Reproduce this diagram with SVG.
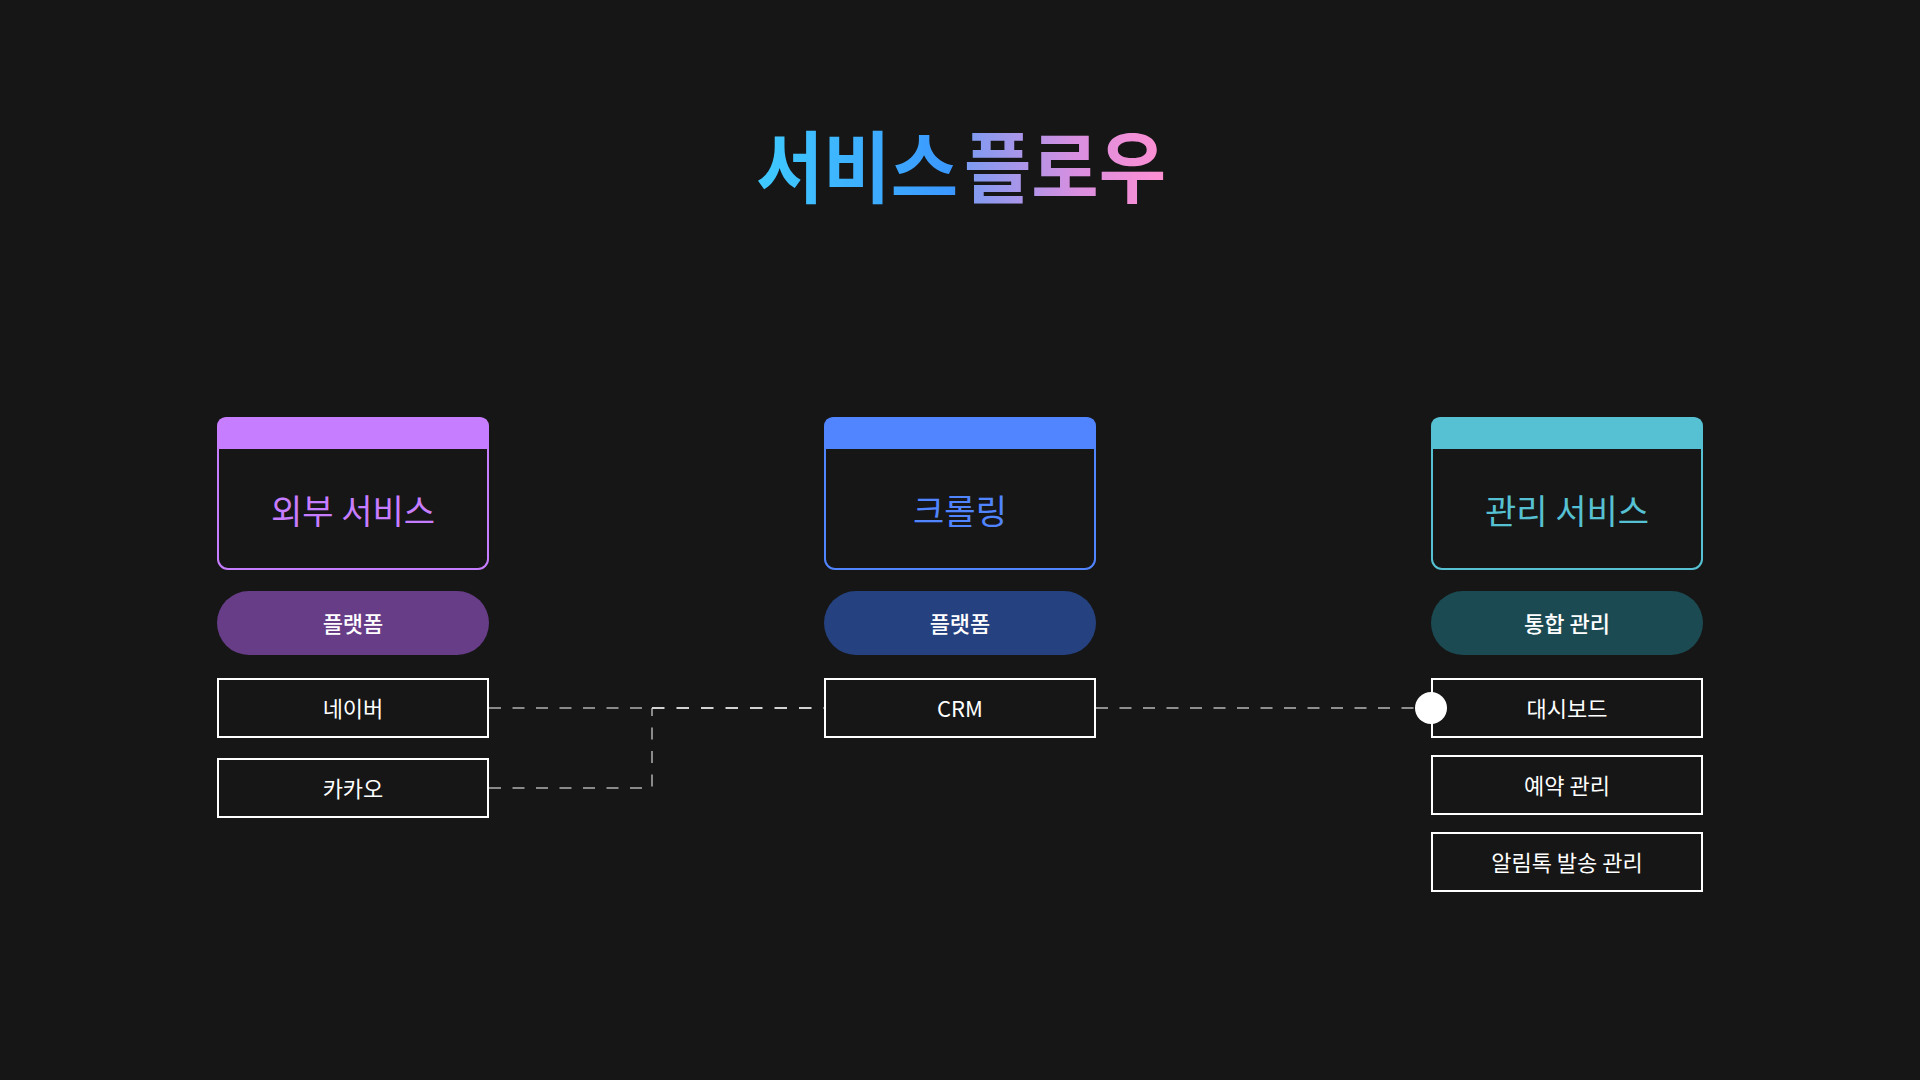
<svg xmlns="http://www.w3.org/2000/svg" width="1920" height="1080" viewBox="0 0 1920 1080">
  <defs>
    <linearGradient id="g1" x1="0" y1="0" x2="1" y2="0">
      <stop offset="0" stop-color="#3fcbff"/>
      <stop offset="1" stop-color="#3b96ff"/>
    </linearGradient>
    <linearGradient id="g2" x1="0" y1="0" x2="1" y2="0">
      <stop offset="0" stop-color="#7a9cf2"/>
      <stop offset="0.55" stop-color="#d88fe0"/>
      <stop offset="1" stop-color="#ff8fd2"/>
    </linearGradient>
    <style>
      .t { font-family: "Noto Sans CJK KR", "Noto Sans", sans-serif; }
      .title { font-size: 78px; font-weight: 700; }
      .card { fill: #161616; stroke-width: 2; }
      .clabel { font-size: 34px; text-anchor: middle; dominant-baseline: central; }
      .pill-t { font-size: 22px; font-weight: 500; fill: #ffffff; text-anchor: middle; dominant-baseline: central; }
      .box { fill: #161616; stroke: #ffffff; stroke-width: 2; }
      .box-t { font-size: 22px; fill: #ffffff; text-anchor: middle; dominant-baseline: central; }
      .dash { fill: none; stroke-width: 2; stroke-dasharray: 12 11.5; }
    </style>
  </defs>
  <rect width="1920" height="1080" fill="#161616"/>

  <g id="title">
    <text class="t title" x="756" y="197" fill="url(#g1)" textLength="202" lengthAdjust="spacingAndGlyphs">서비스</text>
    <text class="t title" x="964" y="197" fill="url(#g2)" textLength="202" lengthAdjust="spacingAndGlyphs">플로우</text>
  </g>

  <g id="connectors">
    <path class="dash" d="M489,708 H652" stroke="#8a8a8a"/>
    <path class="dash" d="M489,788 H652 V708" stroke="#8a8a8a"/>
    <path class="dash" d="M652,708 H824" stroke="#d2d2d2" style="stroke-dasharray:12.5 12"/>
    <path class="dash" d="M1096,708 H1416" stroke="#8f8f8f"/>
  </g>

  <g id="card-external">
    <rect class="card" x="218" y="418" width="270" height="151" rx="10" stroke="#c77dff"/>
    <path d="M217,449 V427 Q217,417 227,417 H479 Q489,417 489,427 V449 Z" fill="#c77dff"/>
    <text class="t clabel" x="353" y="509" fill="#c77dff">외부 서비스</text>
  </g>
  <g id="pill-external">
    <rect x="217" y="591" width="272" height="64" rx="32" fill="#673d88"/>
    <text class="t pill-t" x="353" y="622">플랫폼</text>
  </g>
  <g id="naver">
    <rect class="box" x="218" y="679" width="270" height="58"/>
    <text class="t box-t" x="353" y="707">네이버</text>
  </g>
  <g id="kakao">
    <rect class="box" x="218" y="759" width="270" height="58"/>
    <text class="t box-t" x="353" y="787">카카오</text>
  </g>

  <g id="card-crolling">
    <rect class="card" x="825" y="418" width="270" height="151" rx="10" stroke="#5184ff"/>
    <path d="M824,449 V427 Q824,417 834,417 H1086 Q1096,417 1096,427 V449 Z" fill="#5184ff"/>
    <text class="t clabel" x="960" y="509" fill="#5184ff">크롤링</text>
  </g>
  <g id="pill-crolling">
    <rect x="824" y="591" width="272" height="64" rx="32" fill="#25417f"/>
    <text class="t pill-t" x="960" y="622">플랫폼</text>
  </g>
  <g id="crm">
    <rect class="box" x="825" y="679" width="270" height="58"/>
    <text class="t box-t" x="960" y="707">CRM</text>
  </g>

  <g id="card-manage">
    <rect class="card" x="1432" y="418" width="270" height="151" rx="10" stroke="#56c1d2"/>
    <path d="M1431,449 V427 Q1431,417 1441,417 H1693 Q1703,417 1703,427 V449 Z" fill="#56c1d2"/>
    <text class="t clabel" x="1567" y="509" fill="#56c1d2">관리 서비스</text>
  </g>
  <g id="pill-manage">
    <rect x="1431" y="591" width="272" height="64" rx="32" fill="#1c4a53"/>
    <text class="t pill-t" x="1567" y="622">통합 관리</text>
  </g>
  <g id="dashboard">
    <rect class="box" x="1432" y="679" width="270" height="58"/>
    <text class="t box-t" x="1567" y="707">대시보드</text>
  </g>
  <g id="reservation">
    <rect class="box" x="1432" y="756" width="270" height="58"/>
    <text class="t box-t" x="1567" y="784">예약 관리</text>
  </g>
  <g id="alimtalk">
    <rect class="box" x="1432" y="833" width="270" height="58"/>
    <text class="t box-t" x="1567" y="861">알림톡 발송 관리</text>
  </g>
  <circle id="endpoint" cx="1431" cy="708" r="16" fill="#ffffff"/>
</svg>
